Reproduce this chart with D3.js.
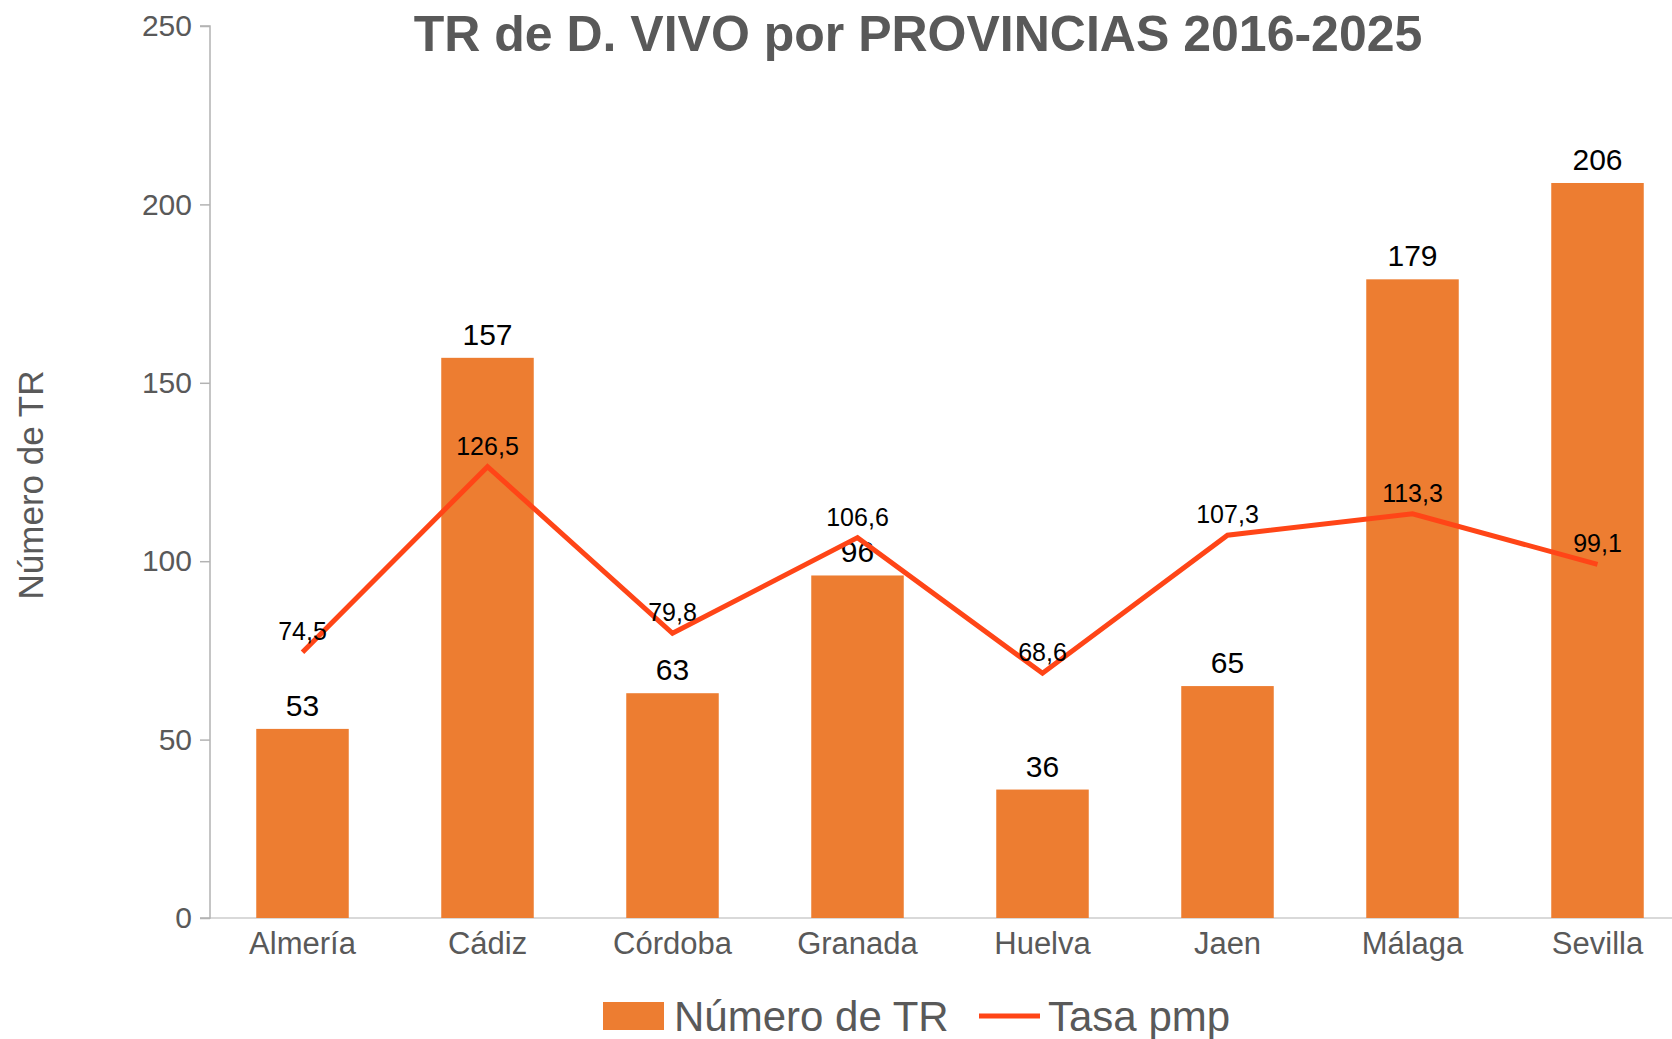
<!DOCTYPE html>
<html><head><meta charset="utf-8">
<script src="https://cdn.jsdelivr.net/npm/d3@7"></script>
<style>html,body{margin:0;padding:0;background:#fff;overflow:hidden}</style>
</head><body>
<svg id="chart" width="1672" height="1039"></svg>
<script>
const categories = ["Almería","Cádiz","Córdoba","Granada","Huelva","Jaen","Málaga","Sevilla"];
const numeroTR = [53,157,63,96,36,65,179,206];
const tasaPmp = [74.5,126.5,79.8,106.6,68.6,107.3,113.3,99.1];
const yTicks = [0,50,100,150,200,250];
const title = "TR de D. VIVO por PROVINCIAS 2016-2025";
const yTitle = "Número de TR";
const legendLabels = ["Número de TR","Tasa pmp"];

const svg = d3.select("#chart");
const font = "'Liberation Sans', Arial, sans-serif";
const grey = "#595959";
const barColor = "#ED7D31";
const lineColor = "#FF4517";

const x = d3.scaleBand().domain(categories).range([210,1690]).paddingInner(0.5).paddingOuter(0.25);
const y = d3.scaleLinear().domain([0,250]).range([918,26]);

// x baseline
svg.append("line").attr("x1",210).attr("x2",1672).attr("y1",y(0)).attr("y2",y(0))
  .attr("stroke","#d9d9d9").attr("stroke-width",2);

// y axis
const yAxis = d3.axisLeft(y).tickValues(yTicks).tickSize(10).tickPadding(8);
const gy = svg.append("g").attr("transform","translate(210,0)").call(yAxis);
gy.select(".domain").attr("stroke","#b3b3b3").attr("stroke-width",1.5).attr("d",`M-10,${y(250)}H0V${y(0)}H-10`);
gy.selectAll(".tick line").attr("stroke","#b3b3b3").attr("stroke-width",1.5);
gy.selectAll(".tick text").attr("font-family",font).attr("font-size",30).attr("fill",grey);

// x labels
const xAxis = d3.axisBottom(x).tickSize(0).tickPadding(14);
const gx = svg.append("g").attr("transform",`translate(0,${y(0)})`).call(xAxis);
gx.select(".domain").remove();
gx.selectAll(".tick text").attr("font-family",font).attr("font-size",31).attr("fill",grey);

// bars
svg.append("g").selectAll("rect").data(categories).join("rect")
  .attr("x",d=>x(d)).attr("width",x.bandwidth())
  .attr("y",(d,i)=>y(numeroTR[i])).attr("height",(d,i)=>y(0)-y(numeroTR[i]))
  .attr("fill",barColor);

// bar labels
svg.append("g").selectAll("text").data(categories).join("text")
  .attr("x",d=>x(d)+x.bandwidth()/2).attr("y",(d,i)=>y(numeroTR[i])-13)
  .attr("text-anchor","middle").attr("font-family",font).attr("font-size",30).attr("fill","#000")
  .text((d,i)=>numeroTR[i]);

// line
const line = d3.line().x((d,i)=>x(categories[i])+x.bandwidth()/2).y(d=>y(d));
svg.append("path").datum(tasaPmp).attr("d",line).attr("fill","none")
  .attr("stroke",lineColor).attr("stroke-width",5).attr("stroke-linejoin","miter");

// line labels
const fmt = v => v.toFixed(1).replace(".",",");
svg.append("g").selectAll("text").data(tasaPmp).join("text")
  .attr("x",(d,i)=>x(categories[i])+x.bandwidth()/2).attr("y",d=>y(d)-12)
  .attr("text-anchor","middle").attr("font-family",font).attr("font-size",25).attr("fill","#000")
  .text(d=>fmt(d));

// title
svg.append("text").attr("x",918).attr("y",51).attr("text-anchor","middle")
  .attr("font-family",font).attr("font-weight","bold").attr("font-size",50).attr("fill",grey)
  .text(title);

// y title
svg.append("text").attr("transform","translate(43,485) rotate(-90)").attr("text-anchor","middle")
  .attr("font-family",font).attr("font-size",35).attr("fill",grey).text(yTitle);

// legend
const lg = svg.append("g");
lg.append("rect").attr("x",603).attr("y",1002).attr("width",61).attr("height",28).attr("fill",barColor);
lg.append("text").attr("x",674).attr("y",1031).attr("font-family",font).attr("font-size",42).attr("fill",grey).text(legendLabels[0]);
lg.append("line").attr("x1",979).attr("x2",1040).attr("y1",1016).attr("y2",1016).attr("stroke",lineColor).attr("stroke-width",5);
lg.append("text").attr("x",1048).attr("y",1031).attr("font-family",font).attr("font-size",42).attr("fill",grey).text(legendLabels[1]);
</script>
</body></html>
